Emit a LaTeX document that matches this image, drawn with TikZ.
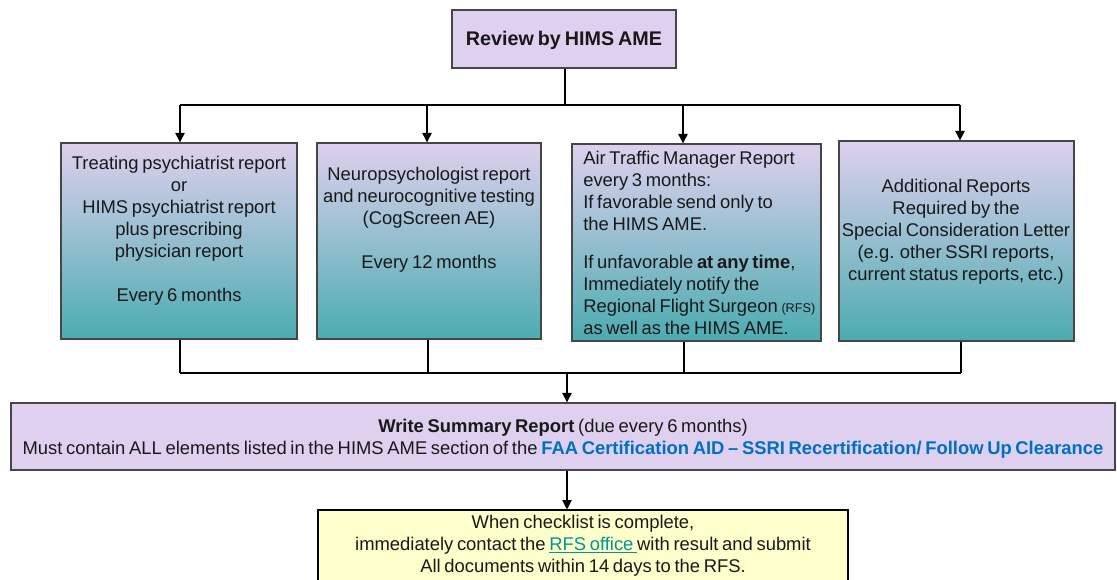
\documentclass[tikz,border=0pt]{standalone}
\usepackage{fontspec}
\setmainfont[WordSpace=0.72]{Liberation Sans}
\usetikzlibrary{arrows.meta,fit,shadows}
\definecolor{lav}{RGB}{222,208,238}
\definecolor{tealbot}{RGB}{75,172,176}
\definecolor{edge}{RGB}{70,70,70}
\definecolor{linkblue}{RGB}{0,112,192}
\definecolor{rfsteal}{RGB}{0,150,150}
\definecolor{paleyellow}{RGB}{255,255,204}
\begin{document}
\begin{tikzpicture}[x=0.75pt,y=-0.75pt,
  box/.style={draw=edge,line width=1pt,inner sep=0pt,
    drop shadow={shadow xshift=0.8pt,shadow yshift=-0.8pt,fill=black,opacity=0.45}},
  lbox/.style={box,fill=lav},
  gbox/.style={box,top color=lav,bottom color=tealbot},
  ybox/.style={draw=black,line width=0.8pt,inner sep=0pt,fill=paleyellow},
  txt/.style={font=\fontsize{13.8}{16.5}\selectfont,inner sep=0pt,text=black!90},
  conn/.style={line width=0.8pt},
  arr/.style={conn,-{Triangle[length=7pt,width=7pt]}}]
\clip (0,0) rectangle (1117,580);
\fill[white] (0,0) rectangle (1117,580);

% boxes
\node[lbox,fit={(452,10) (676,68)}] (top) {};
\node[txt,font=\fontsize{14.8}{17}\selectfont\bfseries] (toptxt) at (564,40) {Review by HIMS AME};

\node[gbox,fit={(61,143) (297,339)}] (b1) {};
\node[gbox,fit={(317,143) (541,339)}] (b2) {};
\node[gbox,fit={(572,144) (821,341)}] (b3) {};
\node[gbox,fit={(839,141) (1074,341)}] (b4) {};

\node[txt,align=center,anchor=north] (t1) at (179,156)
  {Treating psychiatrist report\\or\\HIMS psychiatrist report\\plus prescribing\\physician report\\[16.5pt]Every 6 months};
\node[txt,align=center,anchor=north] (t2) at (429,167)
  {Neuropsychologist report\\and neurocognitive testing\\(CogScreen AE)\\[16.5pt]Every 12 months};
\node[txt,align=left,anchor=north west] (t3) at (583,151)
  {Air Traffic Manager Report\\every 3 months:\\If favorable send only to\\the HIMS AME.\\[12pt]If unfavorable \textbf{at any time},\\Immediately notify the\\Regional Flight Surgeon {\fontsize{9.5}{10}\selectfont(RFS)}\\as well as the HIMS AME.};
\node[txt,align=center,anchor=north] (t4) at (956,179)
  {Additional Reports\\Required by the\\Special Consideration Letter\\(e.g. other SSRI reports,\\current status reports, etc.)};

\node[lbox,fit={(11,403) (1115,470)}] (sum) {};
\node[txt,align=center] (sumtxt) at (563,439)
  {\textbf{Write Summary Report} (due every 6 months)\\
   Must contain ALL elements listed in the HIMS AME section of the \textcolor{linkblue}{\textbf{FAA Certification AID – SSRI Recertification/ Follow Up Clearance}}};

\node[ybox,fit={(318,510) (848,600)}] (yel) {};
\node[txt,align=center,anchor=north] (yeltxt) at (583,515)
  {When checklist is complete,\\
   immediately contact the \textcolor{rfsteal}{\underline{RFS office\ }}with result and submit\\
   All documents within 14 days to the RFS.};

% top connectors
\coordinate (hub) at (565,105);
\coordinate (c1) at (180,105);
\coordinate (c2) at (427,105);
\coordinate (c3) at (683,105);
\coordinate (c4) at (960,105);
\draw[conn] (top.south -| hub) -- (hub);
\draw[conn] (c1) -- (c4);
\draw[arr] (c1) -- (c1 |- b1.north);
\draw[arr] (c2) -- (c2 |- b2.north);
\draw[arr] (c3) -- (c3 |- b3.north);
\draw[arr] (c4) -- (c4 |- b4.north);

% bottom connectors
\coordinate (d1) at (180,373);
\coordinate (d2) at (428,373);
\coordinate (d3) at (684,373);
\coordinate (d4) at (961,373);
\coordinate (hub2) at (567,373);
\draw[conn] (d1 |- b1.south) -- (d1);
\draw[conn] (d2 |- b2.south) -- (d2);
\draw[conn] (d3 |- b3.south) -- (d3);
\draw[conn] (d4 |- b4.south) -- (d4);
\draw[conn] (d1) -- (d4);
\draw[arr] (hub2) -- (hub2 |- sum.north);
\draw[arr] (hub2 |- sum.south) -- (hub2 |- yel.north);
\end{tikzpicture}
\end{document}
